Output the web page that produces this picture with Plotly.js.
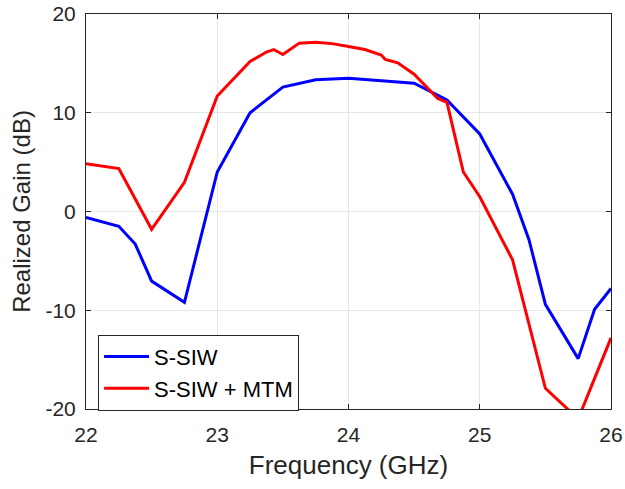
<!DOCTYPE html>
<html>
<head>
<meta charset="utf-8">
<script src="https://cdn.plot.ly/plotly-3.0.1.min.js"></script>
<style>html,body{margin:0;padding:0;background:#fff;}#chart{width:625px;height:489px;}</style>
</head>
<body>
<div id="chart"></div>
<script>
// S-SIW series
const freqSSIW = [22, 22.25, 22.375, 22.5, 22.75, 23, 23.25, 23.5, 23.75, 24, 24.5, 24.75, 25, 25.25, 25.375, 25.5, 25.75, 25.875, 26];
const gainSSIW = [-0.6, -1.5, -3.3, -7.05, -9.2, 4.0, 10.0, 12.6, 13.35, 13.5, 13.0, 11.3, 7.85, 1.75, -2.85, -9.4, -14.9, -9.9, -7.8];

// S-SIW + MTM series
const freqMTM = [22, 22.25, 22.5, 22.75, 23, 23.25, 23.375, 23.43, 23.5, 23.625, 23.75, 23.875, 24, 24.125, 24.25, 24.28, 24.375, 24.5, 24.68, 24.75, 24.875, 25, 25.25, 25.5, 25.75, 26];
const gainMTM = [4.85, 4.35, -1.8, 2.95, 11.7, 15.2, 16.15, 16.4, 15.9, 17.05, 17.15, 17.0, 16.7, 16.4, 15.85, 15.4, 15.05, 13.9, 11.45, 11.05, 4.0, 1.5, -4.9, -17.9, -21.0, -12.8];

const seriesNames = ["S-SIW", "S-SIW + MTM"];
const xTicks = [22, 23, 24, 25, 26];
const yTicks = [-20, -10, 0, 10, 20];

const font = "Liberation Sans, Arial, Helvetica, sans-serif";
const axisColor = "#262626";

const traces = [
  {x: freqSSIW, y: gainSSIW, type: "scatter", mode: "lines", name: seriesNames[0],
   line: {color: "#0000ff", width: 3}},
  {x: freqMTM, y: gainMTM, type: "scatter", mode: "lines", name: seriesNames[1],
   line: {color: "#ff0000", width: 3}}
];

const axisCommon = {
  showline: true, mirror: "ticks", linecolor: axisColor, linewidth: 1,
  ticks: "inside", ticklen: 5, tickcolor: axisColor, tickwidth: 1,
  showgrid: true, gridcolor: "#e6e6e6", gridwidth: 1, zeroline: false,
  tickfont: {family: font, size: 21, color: axisColor}
};

const layout = {
  width: 625, height: 489,
  margin: {l: 86, r: 14, t: 14, b: 80, pad: 0},
  paper_bgcolor: "#ffffff", plot_bgcolor: "#ffffff",
  showlegend: true,
  legend: {
    x: 0.023, y: 0.188, xanchor: "left", yanchor: "top",
    bgcolor: "#ffffff", bordercolor: axisColor, borderwidth: 1,
    font: {family: font, size: 22, color: "#000000"},
    itemwidth: 45, tracegroupgap: 0
  },
  xaxis: Object.assign({}, axisCommon, {
    range: [22, 26], tickvals: xTicks, ticktext: xTicks.map(String),
    ticklabelstandoff: 7,
    title: {text: "Frequency (GHz)", font: {family: font, size: 26, color: axisColor}, standoff: 10}
  }),
  yaxis: Object.assign({}, axisCommon, {
    range: [-20, 20], tickvals: yTicks, ticktext: yTicks.map(String),
    ticklabelstandoff: 5,
    title: {text: "Realized Gain (dB)", font: {family: font, size: 24, color: axisColor}, standoff: 8}
  })
};

Plotly.newPlot("chart", traces, layout, {displayModeBar: false, staticPlot: true});
</script>
</body>
</html>
